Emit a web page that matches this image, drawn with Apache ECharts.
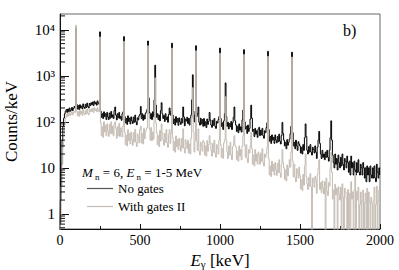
<!DOCTYPE html>
<html><head><meta charset="utf-8">
<script src="https://cdn.jsdelivr.net/npm/echarts@6/dist/echarts.min.js"></script>
<style>html,body{margin:0;padding:0;background:#fff}#c{width:399px;height:270px}</style>
</head><body><div id="c"></div>
<script>
// Spectrum bins: 5 keV wide, first bin at 0 keV
const binWidthKeV = 5;
// Counts/keV, "No gates"
const noGates = [
0.3,2,12,40,80,120,150,170,185,160,190,165,200,170,180,205,175,195,215,200,
11000,240,190,225,185,235,200,220,190,245,210,195,240,205,255,215,200,250,225,260,
235,270,225,280,245,265,230,285,255,240,9000,170,125,150,118,165,130,150,112,160,
128,112,155,120,168,125,142,118,175,210,140,110,150,122,160,118,132,108,150,165,
7100,130,95,118,88,135,102,120,90,128,105,92,126,98,140,100,86,122,110,135,
145,215,118,150,108,140,115,152,165,185,5700,330,160,118,150,112,165,128,300,1700,
230,125,150,112,140,105,175,260,150,118,138,102,150,112,128,98,145,200,140,170,
5100,140,92,115,85,130,98,118,84,122,100,88,118,95,210,128,82,115,104,126,
92,118,85,122,140,300,1050,170,100,140,4500,130,150,210,98,85,120,90,112,80,
118,82,100,75,115,88,102,160,110,85,76,108,84,118,80,72,102,94,112,130,
4000,118,80,95,68,105,150,700,130,80,98,70,92,78,102,68,96,125,210,105,
85,62,80,58,90,66,78,60,110,180,3700,100,70,80,56,85,62,72,115,230,
120,62,68,48,72,54,64,46,70,76,50,66,52,72,50,44,64,58,75,95,
3400,68,38,48,34,52,40,46,34,52,40,35,48,37,54,38,33,50,97,56,
40,30,36,26,41,31,36,42,55,80,3250,58,30,36,26,40,30,24,37,33,
30,21,28,20,32,24,45,90,48,24,20,29,22,32,22,19,28,25,21,30,
22,16,28,40,62,34,20,16,24,17,20,15,22,17,24,17,14,24,45,105,
40,19,13,10,20,12,16,9,19,13,10,17,11,20,12,9,16,14,10,18,
13,8,14,7,18,10,13,7,14,9,7,13,8,15,8,7,12,10,7,13,
10,6,10,5,11,7,10,5,11,7,6,10,6,11,6,5,12,8,6,10,
7];
// Counts/keV, "With gates II" (0.2 = empty bin, below the axis)
const withGates = [
0.2,0.6,4,12,28,50,85,120,145,130,155,135,160,138,150,165,142,158,170,160,
12500,172,135,165,132,178,146,168,138,182,155,142,178,150,190,152,142,186,165,190,
168,198,160,204,178,190,165,202,178,165,7000,95,50,78,46,100,60,84,50,91,
63,48,88,56,100,55,80,50,90,100,72,44,78,50,93,48,74,62,47,81,
5600,60,32,51,30,67,39,55,33,60,41,31,58,37,69,36,29,55,46,35,
68,80,35,55,33,72,43,60,70,75,4500,150,70,40,75,39,60,42,130,900,
95,58,32,50,29,65,38,90,58,41,31,56,36,68,35,28,54,68,34,58,
4000,46,24,37,22,49,29,41,25,44,31,23,43,27,70,27,21,41,34,26,
40,21,33,20,44,120,550,60,22,40,3500,38,24,70,23,19,36,30,23,39,
36,19,30,18,39,23,32,50,35,24,18,34,22,40,21,17,32,27,20,40,
3100,32,17,26,16,35,40,350,40,22,16,30,19,36,19,15,29,30,50,31,
28,15,23,14,30,18,25,15,30,50,2900,30,17,32,16,13,25,21,30,60,
26,12,19,11,25,14,20,12,22,18,12,21,14,26,13,11,20,17,20,28,
2650,16,7,11,6.5,14,8.5,12,7,13,9,6.8,12.5,8,15,7.8,6.2,12,25,13,
10,5.6,9,5.2,11.6,6.8,10,15,10.4,22,2550,14,6.4,12,6.2,5,9.6,8,6,10.4,
6.8,3.5,5.5,3.2,7.2,4.2,11,20,6.5,4.5,3.4,6.2,4,7.5,3.9,0.2,6,5,3.8,6.5,
5.4,2.8,7,10,15,3.4,4.8,2.9,5.2,3.6,2.7,5,0.2,6,3.1,2.5,4.8,4,10,22,
8,2.1,3.3,0.2,4.4,2.6,3.6,0.2,3.9,2.7,2,3.8,0.2,4.5,2.3,0.2,3.6,3,2.2,0.2,
3.4,0.2,2.8,0.2,5,2.1,3,0.2,3.3,8,0.2,3.1,2,3.8,0.2,1.6,3,0.2,1.9,3.3,
0.2,1.8,2.8,0.2,3.6,0.2,3,1.8,0.2,2.3,1.7,0.2,2,3.8,0.2,1.6,4,0.2,1.9,3.3,
1.5];
const seriesNames = ['No gates', 'With gates II'];
const xRange = [0, 2000];
const xTickStep = 500;
const yRange = [0.47, 22000];
const yTickLabels = ['1', '10', '10²', '10³', '10⁴'];   // for 10^0 .. 10^4
const minorMultipliers = [2, 3, 4, 5, 6, 7, 8, 9];
const decades = [0.1, 1, 10, 100, 1000, 10000];
const legendTitle = '{i|M}{s| n} = 6, {i|E}{s| n} = 1-5 MeV';
const panelLabel = 'b)';

const SERIF = '"Liberation Serif", "Times New Roman", serif';
const toPairs = arr => arr.map((v, i) => [i * binWidthKeV, v]);
const minorTicks = [];
decades.forEach(d => minorMultipliers.forEach(m => {
  const v = +(m * d).toPrecision(3);
  if (v >= yRange[0] && v <= yRange[1]) minorTicks.push([0, v]);
}));

const chart = echarts.init(document.getElementById('c'), null, {renderer: 'svg'});
chart.setOption({
  animation: false,
  backgroundColor: '#fff',
  textStyle: {fontFamily: SERIF, color: '#000'},
  grid: {left: 60, right: 19, top: 14, bottom: 41, outerBoundsMode: 'none', containLabel: false,
         show: true, borderColor: '#666', borderWidth: 1, backgroundColor: 'transparent'},
  xAxis: {
    type: 'value', min: xRange[0], max: xRange[1], interval: xTickStep,
    name: '{i|E}{s|γ} [keV]', nameLocation: 'middle', nameGap: 20,
    nameTextStyle: {fontFamily: SERIF, fontSize: 17, color: '#000', lineHeight: 18,
      rich: {i: {fontFamily: SERIF, fontStyle: 'italic', fontSize: 17, lineHeight: 18},
             s: {fontFamily: SERIF, fontSize: 11, verticalAlign: 'bottom', lineHeight: 18}}},
    axisLine: {lineStyle: {color: '#111', width: 1}},
    axisTick: {inside: true, length: 5, lineStyle: {color: '#111'}},
    minorTick: {show: true, splitNumber: 2, length: 3, lineStyle: {color: '#111'}},
    axisLabel: {fontFamily: SERIF, fontSize: 14, color: '#000', margin: 4, formatter: v => String(v)},
    splitLine: {show: false}
  },
  yAxis: {
    type: 'log', logBase: 10, min: yRange[0], max: yRange[1],
    name: 'Counts/keV', nameLocation: 'middle', nameGap: 40,
    nameTextStyle: {fontFamily: SERIF, fontSize: 17, color: '#000'},
    axisLine: {lineStyle: {color: '#111', width: 1}},
    axisTick: {inside: true, length: 9, lineStyle: {color: '#111'}},
    axisLabel: {fontFamily: SERIF, fontSize: 15, color: '#000', margin: 5,
      showMinLabel: false, showMaxLabel: false,
      formatter: v => {
        const e = Math.log10(v); const r = Math.round(e);
        return (Math.abs(e - r) < 1e-6 && r >= 0 && r < yTickLabels.length) ? yTickLabels[r] : '';
      }},
    splitLine: {show: false}
  },
  legend: {
    left: 82, top: 177, orient: 'vertical', itemGap: 5, itemWidth: 26, itemHeight: 1.2, icon: 'rect',
    textStyle: {fontFamily: SERIF, fontSize: 13, color: '#000'},
    data: [{name: seriesNames[0], itemStyle: {color: '#555'}}, {name: seriesNames[1], itemStyle: {color: '#c4bbb2'}}]
  },
  graphic: [
    {type: 'text', left: 82, top: 166, silent: true,
     style: {text: legendTitle, fill: '#000', fontFamily: SERIF, fontSize: 13,
       rich: {i: {fontFamily: SERIF, fontStyle: 'italic', fontSize: 13, lineHeight: 17},
              s: {fontFamily: SERIF, fontSize: 9, verticalAlign: 'bottom', lineHeight: 17}}}},
    {type: 'text', left: 343, top: 22, silent: true,
     style: {text: panelLabel, fill: '#000', fontFamily: SERIF, fontSize: 16}}
  ],
  series: [
    {name: seriesNames[0], type: 'line', data: toPairs(noGates), step: 'middle', showSymbol: false, symbol: 'none',
     lineStyle: {color: '#000', width: 1}, itemStyle: {color: '#000'}, clip: true, z: 2},
    {name: seriesNames[1], type: 'line', data: toPairs(withGates), step: 'middle', showSymbol: false, symbol: 'none',
     lineStyle: {color: '#c4bbb2', width: 1}, itemStyle: {color: '#c4bbb2'}, clip: true, z: 3},
    {name: 'minorTicks', type: 'custom', silent: true, z: 5, data: minorTicks,
     renderItem: (params, api) => {
       const p = api.coord([0, api.value(1)]);
       return {type: 'line', shape: {x1: p[0], y1: p[1], x2: p[0] + 5, y2: p[1]}, style: {stroke: '#111', lineWidth: 1}};
     }}
  ]
});
</script>
</body></html>
